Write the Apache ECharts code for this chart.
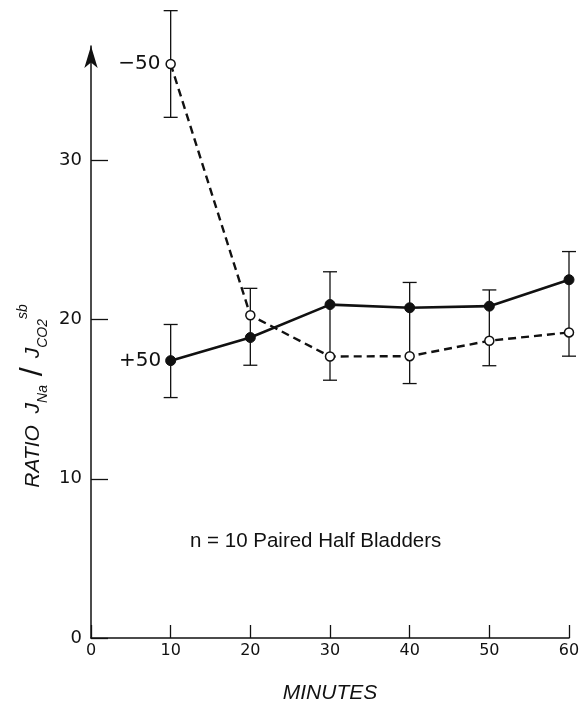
<!DOCTYPE html>
<html>
<head>
<meta charset="utf-8">
<script src="https://cdn.jsdelivr.net/npm/echarts@6/dist/echarts.min.js"></script>
<style>
html,body{margin:0;padding:0;background:#fff;}
#chart{width:588px;height:709px;}
</style>
</head>
<body>
<div id="chart"></div>
<script>
// Data
var minutes = [10, 20, 30, 40, 50, 60];
var plus50 = [17.42, 18.87, 20.94, 20.74, 20.84, 22.5];   // filled, solid line
var minus50 = [36.05, 20.27, 17.68, 17.7, 18.67, 19.19];  // open, dashed line
// Error bars (as drawn)
var barX  = [10, 10, 20, 30, 40, 50, 60];
var barLo = [15.1, 32.7, 17.13, 16.19, 15.98, 17.1, 17.7];
var barHi = [19.69, 39.4, 21.96, 23.0, 22.33, 21.86, 24.27];
var xTicks = [0, 10, 20, 30, 40, 50, 60];
var yTicks = [0, 10, 20, 30];
var seriesNames = ['+50', '\u221250'];
var note = 'n = 10 Paired Half Bladders';

var FONT = 'Liberation Sans';
var DV = 'DejaVu Sans';
var chart = echarts.init(document.getElementById('chart'));

function pairs(xs, ys){ return xs.map(function(x,i){ return [x, ys[i]]; }); }

var option = {
  backgroundColor: '#fff',
  animation: false,
  grid: { left: 91, right: 19, top: 46, bottom: 64, containLabel: false },
  xAxis: {
    type: 'value', min: 0, max: 60, interval: 10,
    name: 'MINUTES', nameLocation: 'middle', nameGap: 45,
    nameTextStyle: { fontFamily: FONT, fontSize: 21, fontStyle: 'italic', color: '#111' },
    axisLine: { lineStyle: { color: '#111', width: 1.5 } },
    axisTick: { inside: true, length: 13, lineStyle: { color: '#111', width: 1.3 } },
    axisLabel: { fontFamily: DV, fontSize: 16, color: '#111', margin: 5,
      formatter: function(v){ return xTicks.indexOf(v) >= 0 ? String(v) : ''; } },
    splitLine: { show: false }
  },
  yAxis: {
    type: 'value', min: 0, max: 37.18, interval: 10,
    axisLine: { show: true, symbol: ['none', 'arrow'], symbolSize: [10, 22], lineStyle: { color: '#111', width: 1.5 } },
    axisTick: { inside: true, length: 17, lineStyle: { color: '#111', width: 1.3 } },
    axisLabel: { fontFamily: DV, fontSize: 18, color: '#111', margin: 9, showMaxLabel: false,
      formatter: function(v){ return yTicks.indexOf(v) >= 0 ? String(v) : ''; } },
    splitLine: { show: false }
  },
  graphic: [
    {
      type: 'text', x: 33, y: 396, rotation: Math.PI / 2,
      style: {
        text: '{a|RATIO  J}{s|Na}{sl| / }{a|J}{s|CO2}{p|sb}',
        textAlign: 'center', textVerticalAlign: 'middle',
        fill: '#111',
        rich: {
          a: { fontFamily: FONT, fontSize: 21, fontStyle: 'italic', fill: '#111', lineHeight: 34 },
          s: { fontFamily: FONT, fontSize: 14, fontStyle: 'italic', fill: '#111', verticalAlign: 'bottom', lineHeight: 34 },
          p: { fontFamily: FONT, fontSize: 14, fontStyle: 'italic', fill: '#111', verticalAlign: 'top', lineHeight: 34 },
          sl: { fontFamily: FONT, fontSize: 32, fill: '#111', lineHeight: 34 }
        }
      }
    },
    {
      type: 'text', left: 190, top: 531,
      style: { text: note, fontFamily: FONT, fontSize: 20.5, fill: '#111' }
    }
  ],
  series: [
    {
      type: 'custom', name: 'err', clip: false, z: 1,
      data: barX.map(function(x,i){ return [x, barLo[i], barHi[i]]; }),
      renderItem: function(params, api){
        var x = api.value(0);
        var lo = api.coord([x, api.value(1)]);
        var hi = api.coord([x, api.value(2)]);
        var hw = 7;
        var st = { stroke: '#111', lineWidth: 1.3 };
        return { type: 'group', children: [
          { type: 'line', shape: { x1: lo[0], y1: lo[1], x2: hi[0], y2: hi[1] }, style: st },
          { type: 'line', shape: { x1: lo[0]-hw, y1: lo[1], x2: lo[0]+hw, y2: lo[1] }, style: st },
          { type: 'line', shape: { x1: hi[0]-hw, y1: hi[1], x2: hi[0]+hw, y2: hi[1] }, style: st }
        ]};
      }
    },
    {
      type: 'line', name: seriesNames[0], z: 3,
      data: pairs(minutes, plus50),
      symbol: 'circle', symbolSize: 10,
      itemStyle: { color: '#111', borderColor: '#111' },
      lineStyle: { color: '#111', width: 2.6, type: 'solid' },
      label: { show: true, position: 'left', distance: 4, fontFamily: DV, fontSize: 20, color: '#111',
        formatter: function(p){ return p.dataIndex === 0 ? seriesNames[0] : ''; } }
    },
    {
      type: 'line', name: seriesNames[1], z: 3,
      data: pairs(minutes, minus50),
      symbol: 'circle', symbolSize: 9,
      itemStyle: { color: '#fff', borderColor: '#111', borderWidth: 1.5 },
      lineStyle: { color: '#111', width: 2.4, type: [8, 5] },
      label: { show: true, position: 'left', distance: 5, fontFamily: DV, fontSize: 20, color: '#111',
        formatter: function(p){ return p.dataIndex === 0 ? seriesNames[1] : ''; } }
    }
  ]
};
chart.setOption(option);
</script>
</body>
</html>
